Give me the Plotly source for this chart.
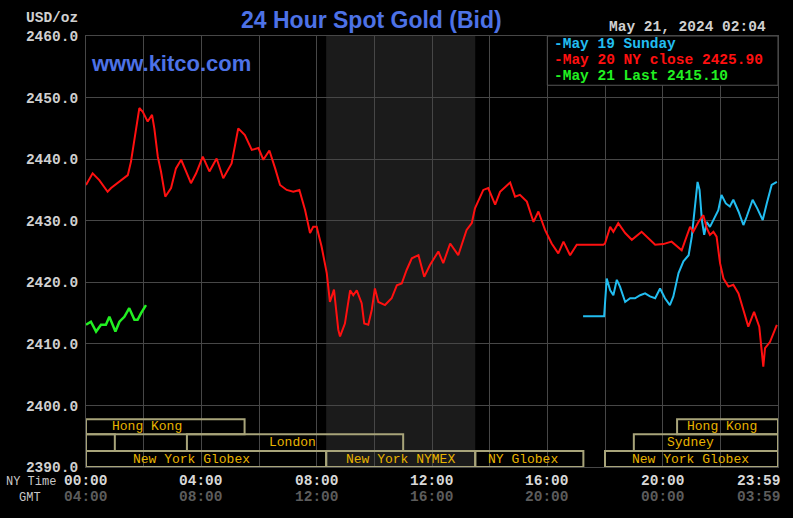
import plotly.graph_objects as go

# ---------------- data (NY time in decimal hours, price USD/oz) ----------------
red_hours = [0.00, 0.23, 0.46, 0.75, 0.87, 1.16, 1.33, 1.45, 1.56, 1.68, 1.85, 1.97, 2.14, 2.29, 2.37,
             2.49, 2.60, 2.75, 2.95, 3.12, 3.30, 3.47, 3.64, 3.82, 4.05, 4.28, 4.53, 4.76, 5.05, 5.28,
             5.51, 5.75, 5.98, 6.15, 6.36, 6.56, 6.73, 6.96, 7.19, 7.40, 7.60, 7.77, 7.88, 8.00, 8.17,
             8.35, 8.46, 8.60, 8.75, 8.81, 8.98, 9.16, 9.27, 9.39, 9.56, 9.65, 9.79, 9.91, 10.02, 10.14,
             10.37, 10.60, 10.78, 10.95, 11.12, 11.30, 11.53, 11.73, 11.93, 12.22, 12.39, 12.63, 12.91,
             13.20, 13.38, 13.49, 13.78, 13.95, 14.19, 14.36, 14.53, 14.71, 14.88, 15.05, 15.29, 15.52,
             15.69, 15.92, 16.15, 16.38, 16.56, 16.79, 17.02, 17.94, 18.00, 18.18, 18.29, 18.46, 18.70,
             18.93, 19.27, 19.56, 19.74, 20.02, 20.31, 20.66, 20.95, 21.06, 21.24, 21.41, 21.53, 21.64,
             21.76, 21.87, 21.99, 22.11, 22.28, 22.45, 22.63, 22.80, 22.97, 23.17, 23.35, 23.49, 23.55,
             23.72, 23.96]
red_prices = [2435.8, 2437.7, 2436.6, 2434.7, 2435.3, 2436.4, 2437.1, 2437.4, 2439.6, 2443.4, 2448.3,
              2447.7, 2446.1, 2447.2, 2445.0, 2440.4, 2438.0, 2433.9, 2435.3, 2438.5, 2439.9, 2438.0,
              2436.1, 2437.7, 2440.4, 2438.0, 2440.1, 2436.9, 2439.3, 2445.0, 2443.9, 2441.5, 2441.8,
              2439.9, 2441.4, 2438.5, 2435.8, 2435.0, 2434.7, 2435.0, 2431.7, 2428.0, 2429.0, 2429.0,
              2425.8, 2421.5, 2416.8, 2418.8, 2412.3, 2411.2, 2413.3, 2418.7, 2417.9, 2418.7, 2416.6,
              2413.3, 2413.1, 2415.5, 2419.0, 2416.8, 2416.3, 2417.4, 2419.5, 2419.8, 2422.0, 2423.9,
              2424.4, 2420.9, 2422.8, 2425.0, 2423.1, 2426.3, 2424.4, 2428.5, 2429.6, 2432.0, 2435.0,
              2435.3, 2432.6, 2434.7, 2435.5, 2436.2, 2433.9, 2434.2, 2433.1, 2429.8, 2431.5, 2428.5,
              2426.3, 2424.7, 2426.6, 2424.4, 2426.1, 2426.1, 2426.3, 2429.0, 2428.2, 2429.6, 2428.0,
              2426.9, 2428.2, 2426.9, 2426.1, 2426.2, 2426.6, 2425.2, 2429.0, 2428.2, 2429.8, 2430.9,
              2428.8, 2427.7, 2428.2, 2427.4, 2423.1, 2420.6, 2419.3, 2419.6, 2418.2, 2415.5, 2412.8,
              2415.2, 2412.8, 2406.3, 2409.3, 2410.3, 2413.1]

blue_hours = [17.24, 17.97, 18.00, 18.06, 18.18, 18.29, 18.41, 18.52, 18.70, 18.87, 19.04, 19.22, 19.39,
              19.56, 19.74, 19.91, 20.08, 20.25, 20.37, 20.55, 20.72, 20.90, 21.01, 21.13, 21.21, 21.28,
              21.36, 21.44, 21.53, 21.64, 21.82, 21.93, 22.04, 22.19, 22.33, 22.45, 22.63, 22.80, 22.91,
              23.12, 23.28, 23.47, 23.61, 23.78, 23.96]
blue_prices = [2414.5, 2414.5, 2416.6, 2420.6, 2418.7, 2417.9, 2420.4, 2419.3, 2416.8, 2417.4, 2417.4,
               2417.9, 2418.2, 2417.7, 2417.4, 2419.0, 2417.4, 2416.3, 2417.7, 2421.5, 2423.4, 2424.4,
               2427.4, 2432.3, 2436.3, 2435.0, 2430.1, 2427.7, 2429.8, 2429.0, 2430.6, 2431.7, 2434.2,
               2432.8, 2432.3, 2433.4, 2431.5, 2429.3, 2430.6, 2433.4, 2432.0, 2430.1, 2432.8, 2435.8,
               2436.3]

green_hours = [0.00, 0.17, 0.35, 0.52, 0.69, 0.81, 1.02, 1.16, 1.33, 1.50, 1.68, 1.79, 1.91, 2.08]
green_prices = [2413.1, 2413.6, 2412.0, 2413.1, 2413.1, 2414.4, 2412.0, 2413.6, 2414.4, 2415.8, 2413.9,
                2413.9, 2415.0, 2416.3]

series_names = ["May 19 Sunday", "May 20 NY close 2425.90", "May 21 Last 2415.10"]

ny_tick_hours = [0, 4, 8, 12, 16, 20, 24]
ny_tick_labels = ["00:00", "04:00", "08:00", "12:00", "16:00", "20:00", "23:59"]
gmt_tick_labels = ["04:00", "08:00", "12:00", "16:00", "20:00", "00:00", "03:59"]

# trading sessions: (row, start hour, end hour, label, label hour)
sessions = [
    (0, 0.0, 5.5, "Hong Kong", 2.1),
    (0, 20.5, 24.0, "Hong Kong", 22.05),
    (1, 0.0, 1.0, "", None),
    (1, 3.5, 11.0, "London", 7.15),
    (1, 19.0, 24.0, "Sydney", 20.95),
    (2, 0.0, 8.33, "New York Globex", 3.65),
    (2, 8.33, 13.5, "New York NYMEX", 10.9),
    (2, 13.5, 17.25, "NY Globex", 15.15),
    (2, 18.0, 24.0, "New York Globex", 20.95),
]
nymex_window = (8.33, 13.5)

# ---------------- styling ----------------
MONO = "Liberation Mono"
SANS = "Liberation Sans"
GRID = "#474747"
BLUE = "#22bdf0"
RED = "#ff1010"
GREEN = "#22f022"
BOX_LINE = "#a8a47a"
BOX_TEXT = "#e8b400"
YMIN, YMAX = 2390, 2460
row_bounds = [(2397.75, 2395.3), (2395.3, 2392.6), (2392.6, 2390.0)]

fig = go.Figure()
fig.add_trace(go.Scatter(x=blue_hours, y=blue_prices, mode="lines", name=series_names[0],
                         line=dict(color=BLUE, width=2), hoverinfo="skip"))
fig.add_trace(go.Scatter(x=red_hours, y=red_prices, mode="lines", name=series_names[1],
                         line=dict(color=RED, width=2), hoverinfo="skip"))
fig.add_trace(go.Scatter(x=green_hours, y=green_prices, mode="lines", name=series_names[2],
                         line=dict(color=GREEN, width=2.5), hoverinfo="skip"))

shapes = []
# NYMEX shaded window
shapes.append(dict(type="rect", xref="x", yref="paper", x0=nymex_window[0], x1=nymex_window[1],
                   y0=0, y1=1, fillcolor="#1b1b1b", line=dict(width=0), layer="below"))
# session boxes
for row, s, e, lab, lx in sessions:
    y0, y1 = row_bounds[row]
    shapes.append(dict(type="rect", xref="x", yref="y", x0=s, x1=e, y0=y1, y1=y0,
                       fillcolor="rgba(0,0,0,0)", line=dict(color=BOX_LINE, width=2), layer="above"))
# legend box
shapes.append(dict(type="rect", xref="x", yref="y", x0=16.0, x1=24.0, y0=2452.0, y1=2460.0,
                   fillcolor="#000000", line=dict(color="#555555", width=1), layer="above"))

annotations = []
for row, s, e, lab, lx in sessions:
    if lab:
        y0, y1 = row_bounds[row]
        annotations.append(dict(x=lx, y=(y0 + y1) / 2, xref="x", yref="y", text=lab, showarrow=False,
                                font=dict(family=MONO, size=13, color=BOX_TEXT),
                                xanchor="center", yanchor="middle"))
# legend entries
leg_colors = [BLUE, RED, GREEN]
leg_y = [2458.7, 2456.1, 2453.5]
for name, c, ly in zip(series_names, leg_colors, leg_y):
    annotations.append(dict(x=16.15, y=ly, xref="x", yref="y", text="<b>-" + name + "</b>",
                            showarrow=False, xanchor="left", yanchor="middle",
                            font=dict(family=MONO, size=14.5, color=c)))
# x tick labels (NY time and GMT)
for i, (h, ny, gmt) in enumerate(zip(ny_tick_hours, ny_tick_labels, gmt_tick_labels)):
    last = i == len(ny_tick_hours) - 1
    annotations.append(dict(x=h, y=-0.033, xref="x", yref="paper", text="<b>" + ny + "</b>",
                            showarrow=False, xanchor="right" if last else "center",
                            xshift=5 if last else 0, yanchor="middle",
                            font=dict(family=MONO, size=14.5, color="#d8d8d8")))
    annotations.append(dict(x=h, y=-0.070, xref="x", yref="paper", text="<b>" + gmt + "</b>",
                            showarrow=False, xanchor="right" if last else "center",
                            xshift=5 if last else 0, yanchor="middle",
                            font=dict(family=MONO, size=14.5, color="#5c5c5c")))
annotations += [
    dict(x=-0.119, y=-0.034, xref="paper", yref="paper", text="NY Time", showarrow=False,
         xanchor="left", yanchor="middle", font=dict(family=MONO, size=12, color="#c8c8c8")),
    dict(x=-0.100, y=-0.071, xref="paper", yref="paper", text="GMT", showarrow=False,
         xanchor="left", yanchor="middle", font=dict(family=MONO, size=12, color="#c8c8c8")),
    dict(x=-0.009, y=1.042, xref="paper", yref="paper", text="<b>USD/oz</b>", showarrow=False,
         xanchor="right", yanchor="middle", font=dict(family=MONO, size=14.5, color="#d0d0d0")),
    dict(x=0.412, y=1.038, xref="paper", yref="paper", text="<b>24 Hour Spot Gold (Bid)</b>",
         showarrow=False, xanchor="center", yanchor="middle",
         font=dict(family=SANS, size=23, color="#4d72e6")),
    dict(x=0.753, y=1.021, xref="paper", yref="paper", text="<b>May 21, 2024 02:04</b>",
         showarrow=False, xanchor="left", yanchor="middle",
         font=dict(family=MONO, size=14.5, color="#d0d0d0")),
    dict(x=0.004, y=0.937, xref="paper", yref="paper", text="<b>www.kitco.com</b>",
         showarrow=False, xanchor="left", yanchor="middle",
         font=dict(family=SANS, size=22, color="#4d72e6")),
]

fig.update_layout(
    width=793, height=518,
    margin=dict(l=86, r=15, t=36, b=51),
    paper_bgcolor="#000000", plot_bgcolor="#000000",
    showlegend=False,
    shapes=shapes, annotations=annotations,
    xaxis=dict(range=[0, 24], tickvals=list(range(0, 25, 2)), showticklabels=False,
               showgrid=True, gridcolor=GRID, gridwidth=1, zeroline=False,
               showline=True, linecolor=GRID, mirror=True, ticks=""),
    yaxis=dict(range=[YMIN, YMAX], dtick=10, tickformat=".1f", showgrid=True, gridcolor=GRID,
               gridwidth=1, zeroline=False, showline=True, linecolor=GRID, mirror=True, ticks="",
               ticklabelstandoff=4,
               tickfont=dict(family=MONO, size=14.5, color="#d0d0d0", weight="bold")),
)

fig.write_html("out.html")
